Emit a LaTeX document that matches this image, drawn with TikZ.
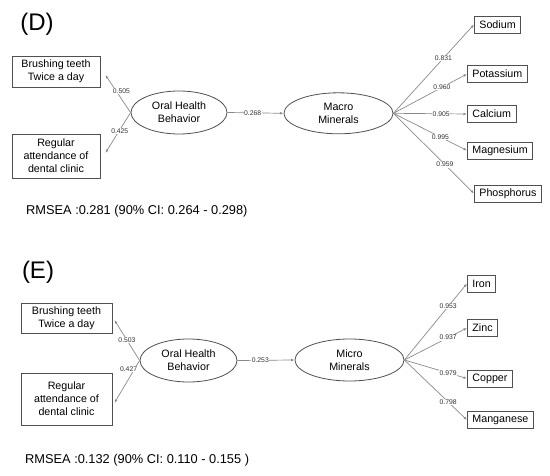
\documentclass[tikz,border=0pt]{standalone}
\usepackage{fontspec}
\setmainfont{Liberation Sans}
\usetikzlibrary{arrows.meta,shapes.geometric}
\definecolor{boxc}{HTML}{505050}
\definecolor{linec}{HTML}{8A8A8A}
\definecolor{labc}{HTML}{303030}
\begin{document}
\begin{tikzpicture}[x=1pt,y=-1pt,
  txt/.style={font=\fontsize{10.7}{13}\selectfont, align=center},
  box/.style={txt, draw=boxc, line width=0.8pt, inner sep=0pt},
  obs/.style={box, anchor=west, inner xsep=5pt, minimum height=17pt},
  lat/.style={txt, draw=boxc, line width=0.8pt, ellipse, inner sep=0pt},
  arr/.style={draw=linec, line width=0.7pt, -{Latex[length=3.5pt,width=2.6pt]}},
  lbl/.style={fill=white, inner sep=0.6pt, font=\fontsize{6.8}{8}\selectfont, text=labc},
  ttl/.style={font=\fontsize{24}{28}\selectfont},
  fit/.style={font=\fontsize{12.8}{15}\selectfont, anchor=west, inner sep=0pt}]
\useasboundingbox (0,0) rectangle (550,476);

% ---------- Panel D ----------
\node[ttl] (tD) at (37,24) {(D)};
\node[box, minimum width=88pt, minimum height=31pt] (b1D) at (56,71.5) {Brushing teeth\\Twice a day};
\node[box, minimum width=88pt, minimum height=44pt] (b2D) at (56,156) {Regular\\attendance of\\dental clinic};
\node[lat, minimum width=96pt, minimum height=43pt] (ohD) at (179,112.5) {Oral Health\\Behavior};
\node[lat, minimum width=109pt, minimum height=41pt] (mD) at (338.5,113.3) {Macro\\Minerals};
\node[obs] (sod) at (474,24.5) {Sodium};
\node[obs] (pot) at (467,74) {Potassium};
\node[obs] (cal) at (467,114) {Calcium};
\node[obs] (mag) at (467,150.5) {Magnesium};
\node[obs] (pho) at (474,193.5) {Phosphorus};
\node[fit] (rD) at (26,211) {RMSEA :0.281 (90\% CI: 0.264 - 0.298)};

\draw[arr] (ohD.west) -- node[lbl, pos=.58, xshift=5.5pt]{0.505} ([shift={(5,3.5)}]b1D.east);
\draw[arr] (ohD.west) -- node[lbl, pos=.45, xshift=0.5pt]{0.425} ([shift={(5,-3)}]b2D.east);
\draw[arr] (ohD.east) -- node[lbl, pos=.45]{0.268} (mD.west);
\draw[arr] (mD.east) -- node[lbl, pos=.62]{0.831} (sod.west);
\draw[arr] (mD.east) -- node[lbl, pos=.66]{0.960} (pot.west);
\draw[arr] (mD.east) -- node[lbl, pos=.65]{0.905} (cal.west);
\draw[arr] (mD.east) -- node[lbl, pos=.64]{0.995} (mag.west);
\draw[arr] (mD.east) -- node[lbl, pos=.64]{0.959} (pho.west);

% ---------- Panel E ----------
\node[ttl] (tE) at (38,272.5) {(E)};
\node[box, minimum width=91pt, minimum height=30pt] (b1E) at (66.5,318) {Brushing teeth\\Twice a day};
\node[box, minimum width=91pt, minimum height=52pt] (b2E) at (66.5,399) {Regular\\attendance of\\dental clinic};
\node[lat, minimum width=97pt, minimum height=43pt] (ohE) at (188.5,360.5) {Oral Health\\Behavior};
\node[lat, minimum width=109pt, minimum height=42pt] (mE) at (349.5,360) {Micro\\Minerals};
\node[obs] (iro) at (467,283.5) {Iron};
\node[obs] (zin) at (467,328) {Zinc};
\node[obs] (cop) at (467,378.5) {Copper};
\node[obs] (man) at (467,420) {Manganese};
\node[fit] (rE) at (25,460) {RMSEA :0.132 (90\% CI: 0.110 - 0.155 )};

\draw[arr] (ohE.west) -- node[lbl, pos=.5]{0.503} ([shift={(2,2)}]b1E.east);
\draw[arr] (ohE.west) -- node[lbl, pos=.2, xshift=-6pt]{0.427} ([shift={(2,4)}]b2E.east);
\draw[arr] (ohE.east) -- node[lbl, pos=.4]{0.253} (mE.west);
\draw[arr] (mE.east) -- node[lbl, pos=.7]{0.953} (iro.west);
\draw[arr] (mE.east) -- node[lbl, pos=.7]{0.937} (zin.west);
\draw[arr] (mE.east) -- node[lbl, pos=.7]{0.979} (cop.west);
\draw[arr] (mE.east) -- node[lbl, pos=.7]{0.798} (man.west);
\end{tikzpicture}
\end{document}
